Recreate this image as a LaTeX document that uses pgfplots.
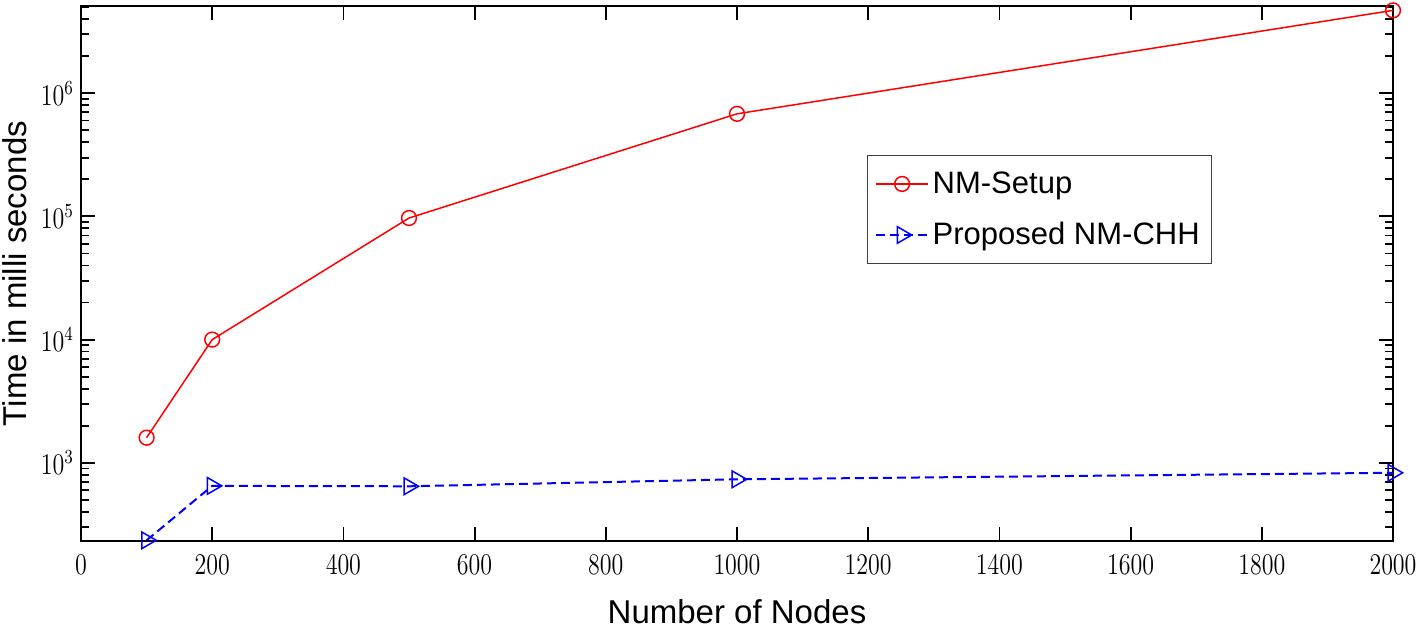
\documentclass[border=0pt]{standalone}
\usepackage{fontspec}
\setmainfont{Liberation Sans}
\usepackage{pgfplots}
\pgfplotsset{compat=1.18}
\begin{document}
\begin{tikzpicture}
\begin{axis}[
  scale only axis,
  width=656pt, height=267.5pt,
  xmin=0, xmax=2000,
  ymode=log, ymin=232, ymax=5.1e6,
  xtick={0,200,...,2000},
  ytick={1e3,1e4,1e5,1e6},
  minor ytick={300,400,500,600,700,800,900,
    2000,3000,4000,5000,6000,7000,8000,9000,
    20000,30000,40000,50000,60000,70000,80000,90000,
    200000,300000,400000,500000,600000,700000,800000,900000,
    2000000,3000000,4000000,5000000},
  /pgf/number format/set thousands separator={},
  tick align=inside,
  major tick length=7pt,
  minor tick length=4pt,
  axis line style={line width=1pt},
  every tick/.style={black, line width=0.9pt},
  ticklabel style={font=\fontsize{11.5}{13}\selectfont, yscale=1.25},
  xticklabel style={yshift=-2pt},
  log basis y=10,
  xlabel={Number of Nodes},
  ylabel={Time in milli seconds},
  label style={font=\fontsize{16.5}{19}\selectfont},
  xlabel style={at={([yshift=-41pt]axis description cs:0.5,0)}, anchor=base},
  ylabel style={at={([xshift=-27pt]axis description cs:0,0.5)}, anchor=base, rotate=0},
  clip=false,
  legend cell align=left,
  legend style={at={(0.599,0.7215)}, anchor=north west,
    font=\fontsize{15.5}{18}\selectfont, draw=black!75, line width=0.6pt,
    inner xsep=4pt, inner ysep=6pt, row sep=9pt},
  legend image code/.code={\draw[mark repeat=2,mark phase=2] plot coordinates {(0cm,0cm) (0.45cm,0cm) (0.9cm,0cm)};},
]
\coordinate (sw) at (rel axis cs:0,0);
\coordinate (ne) at (rel axis cs:1,1);
\addplot[red, line width=0.75pt, mark=o, mark size=3.7pt, mark options={solid, fill=white}]
  coordinates {(100,1600) (200,10000) (500,97000) (1000,680000) (2000,4700000)};
\addlegendentry{NM-Setup}
\addplot[blue, line width=1pt, dash pattern=on 4.5pt off 2.5pt, mark=triangle, mark size=4.8pt, mark options={solid, rotate=-90, fill=white, line width=0.75pt}]
  coordinates {(100,235) (200,650) (500,645) (1000,735) (2000,830)};
\addlegendentry{Proposed NM-CHH}
\end{axis}
\pgfresetboundingbox
\path[use as bounding box] ([xshift=-40.5pt,yshift=-43.5pt]sw) rectangle ([xshift=12.5pt,yshift=3pt]ne);
\end{tikzpicture}
\end{document}
